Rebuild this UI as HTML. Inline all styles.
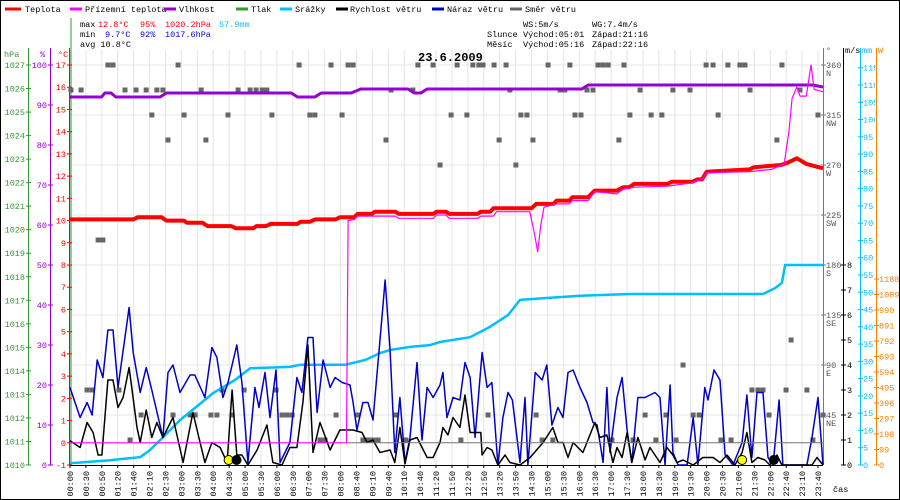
<!DOCTYPE html>
<html><head><meta charset="utf-8"><style>
html,body{margin:0;padding:0;background:#fff}
svg{display:block}
text{font-family:"Liberation Mono",monospace;font-size:8.5px}
</style></head><body>
<svg id="chart" width="900" height="500" viewBox="0 0 900 500" xmlns="http://www.w3.org/2000/svg">
<rect x="0.5" y="0.5" width="899" height="499" fill="#fff" stroke="#000"/>
<g id="grid"></g>
<g id="legend">
 <line x1="5" y1="9" x2="21" y2="9" stroke="#f00" stroke-width="3"/><text x="25" y="12">Teplota</text>
 <line x1="70" y1="9" x2="82" y2="9" stroke="#f0f" stroke-width="3"/><text x="85" y="12">Přízemní teplota</text>
 <line x1="164" y1="9" x2="176" y2="9" stroke="#9400d3" stroke-width="3"/><text x="179" y="12">Vlhkost</text>
 <line x1="236" y1="9" x2="248" y2="9" stroke="#339933" stroke-width="3"/><text x="251" y="12">Tlak</text>
 <line x1="280" y1="9" x2="292" y2="9" stroke="#00bfff" stroke-width="3"/><text x="295" y="12">Srážky</text>
 <line x1="336" y1="9" x2="348" y2="9" stroke="#000" stroke-width="3"/><text x="350" y="12">Rychlost větru</text>
 <line x1="432" y1="9" x2="444" y2="9" stroke="#0000cd" stroke-width="3"/><text x="447" y="12">Náraz větru</text>
 <line x1="510" y1="9" x2="522" y2="9" stroke="#666" stroke-width="3"/><text x="525" y="12">Směr větru</text>
</g>
<g id="stats">
 <text x="80" y="27">max</text><text x="98" y="27" fill="#f00">12.8°C</text><text x="140" y="27" fill="#f00">95%</text><text x="165" y="27" fill="#f00">1020.2hPa</text><text x="219" y="27" fill="#00bfff">57.9mm</text>
 <text x="80" y="37">min</text><text x="105" y="37" fill="#0000cd">9.7°C</text><text x="140" y="37" fill="#0000cd">92%</text><text x="165" y="37" fill="#0000cd">1017.6hPa</text>
 <text x="80" y="47">avg 10.8°C</text>
 <text x="523" y="27">WS:5m/s</text><text x="592" y="27">WG:7.4m/s</text>
 <text x="487" y="37">Slunce</text><text x="523" y="37">Východ:05:01</text><text x="592" y="37">Západ:21:16</text>
 <text x="487" y="47">Měsíc</text><text x="523" y="47">Východ:05:16</text><text x="592" y="47">Západ:22:16</text>
</g>
<text x="418" y="61" style="font-size:12px;font-weight:bold">23.6.2009</text>
<g id="axes"></g>
<g id="series"></g>
<text x="833" y="492">čas</text>
</svg>
<script>
const timeLabels=["00:00","00:30","00:50","01:20","01:40","02:10","02:30","03:00","03:30","04:00","04:30","05:00","05:30","06:00","06:30","07:00","07:30","08:00","08:40","09:10","09:40","10:10","10:40","11:20","11:50","12:20","12:50","13:20","13:50","14:30","15:00","15:30","16:00","16:30","17:00","17:30","18:00","18:30","19:00","19:30","20:00","20:30","21:00","21:30","22:00","22:40","23:10","23:40"];
const tempData=[[0,10.05],[2.0,10.05],[2.15,10.15],[2.9,10.15],[3.05,10.0],[3.6,10.0],[3.7,9.9],[4.2,9.9],[4.35,9.75],[5.1,9.75],[5.25,9.65],[5.8,9.65],[5.9,9.75],[6.2,9.75],[6.35,9.85],[7.2,9.85],[7.3,9.95],[7.6,9.95],[7.75,10.05],[8.4,10.05],[8.55,10.15],[9.0,10.15],[9.1,10.3],[9.55,10.3],[9.65,10.4],[10.3,10.4],[10.4,10.3],[11.5,10.3],[11.6,10.4],[11.9,10.4],[12.0,10.3],[12.9,10.3],[13.0,10.4],[13.3,10.4],[13.4,10.55],[14.6,10.55],[14.75,10.75],[15.3,10.75],[15.4,10.9],[15.8,10.9],[15.9,11.05],[16.4,11.05],[16.6,11.35],[17.3,11.35],[17.5,11.5],[17.7,11.5],[17.85,11.65],[18.9,11.65],[19.05,11.75],[19.7,11.75],[19.85,11.85],[20.0,11.85],[20.15,12.2],[21.5,12.3],[21.65,12.4],[22.5,12.5],[22.7,12.6],[23.0,12.8],[23.3,12.55],[23.83,12.35]];
const feelsData=[[0,0],[8.75,0],[8.8,10.0],[9.0,10.05],[9.1,10.2],[10.3,10.2],[10.4,10.1],[11.5,10.1],[11.6,10.25],[11.9,10.25],[12.0,10.1],[12.9,10.1],[13.0,10.2],[13.4,10.2],[13.5,10.4],[14.55,10.4],[14.7,9.4],[14.8,8.6],[14.9,9.8],[15.0,10.6],[15.4,10.75],[15.8,10.75],[15.9,10.9],[16.4,10.9],[16.6,11.3],[17.3,11.2],[17.5,11.4],[17.85,11.5],[18.9,11.55],[19.7,11.7],[19.85,11.8],[20.0,11.85],[20.15,12.15],[21.5,12.2],[22.2,12.3],[22.6,12.55],[22.75,14.0],[22.85,15.5],[23.0,16.0],[23.1,15.6],[23.3,15.6],[23.45,17.0],[23.55,15.9],[23.83,15.8]];
const humidityData=[[0,92],[1.0,92],[1.1,93],[1.3,93],[1.45,92],[2.85,92],[3.05,93],[7.0,93],[7.2,92],[7.75,92],[7.95,93],[8.9,93],[9.2,94],[10.7,94],[10.9,93],[11.1,93],[11.3,94],[16.2,94],[16.4,95],[23.5,95],[23.83,94.5]];
const rainData=[[0,0.5],[1.27,1.4],[2.22,2.3],[2.53,4.3],[2.94,8],[3.48,13],[4.53,20.8],[5.22,24.6],[5.7,28],[6.96,28.4],[7.28,29],[8.7,29],[9.34,30.4],[9.81,32.4],[10.13,33.3],[10.76,34.2],[11.39,34.7],[11.71,35.6],[12.66,37],[13.29,40],[13.86,43.4],[14.24,47.8],[15.03,48.3],[16.14,49],[17.72,49.5],[21.93,49.5],[22.31,51.2],[22.53,52.7],[22.63,57.9],[23.83,57.9]];
const speedData=[[0,0.97],[0.32,0.7],[0.54,1.7],[0.73,1.3],[0.89,0.4],[1.01,0.4],[1.2,3.4],[1.36,3.4],[1.52,2.3],[1.68,2.7],[1.87,3.9],[2.12,1.5],[2.22,0.9],[2.41,2.2],[2.59,1.1],[2.75,1.7],[2.94,1.1],[3.26,1.9],[3.58,0.1],[3.89,2.1],[4.27,0.1],[4.49,0.9],[4.75,0.7],[4.97,0.1],[5.13,3.0],[5.28,0.4],[5.44,0.4],[5.63,0],[5.92,0.6],[6.23,1.6],[6.42,0.1],[6.71,0],[6.96,0.7],[7.18,0.7],[7.37,2.5],[7.53,4.8],[7.69,0.5],[7.91,1.7],[8.23,0.6],[8.54,1.4],[8.86,1.4],[8.96,1.4],[9.24,1.3],[9.4,0.9],[9.59,1.0],[9.81,0.5],[10.13,0.6],[10.28,0.1],[10.44,1.5],[10.6,0.05],[10.76,1.0],[10.98,1.1],[11.3,0.3],[11.49,0.3],[11.71,0.9],[11.8,1.5],[11.96,1.2],[12.12,1.9],[12.34,1.5],[12.5,2.8],[12.66,1.3],[13.0,1.3],[13.04,0.4],[13.2,0.7],[13.35,0.6],[13.54,0],[13.77,0.4],[13.92,0.1],[14.24,0],[14.56,0.3],[14.97,0.9],[15.28,1.5],[15.44,0.9],[15.6,0.9],[15.76,0.3],[15.92,0.9],[16.23,0.5],[16.61,1.7],[16.77,1.1],[16.99,1.2],[17.18,0.1],[17.31,0.7],[17.47,0.3],[17.63,1.3],[17.78,0.1],[17.97,1.1],[18.2,0.2],[18.35,0.7],[18.67,0.1],[18.89,0.7],[19.08,0.4],[19.21,0.1],[19.4,0.2],[19.72,0],[20.03,0.3],[20.35,0.3],[20.57,0.1],[20.79,0.4],[21.04,0],[21.27,0.5],[21.42,1.3],[21.58,0.1],[21.77,0.3],[21.99,0.2],[22.15,0],[22.37,0.4],[22.53,0],[23.48,0],[23.64,0.3],[23.83,0]];
const gustData=[[0,3.1],[0.32,1.9],[0.54,2.5],[0.7,2.0],[0.86,4.2],[1.04,3.5],[1.2,5.4],[1.36,5.4],[1.52,3.1],[1.87,6.3],[2.0,4.5],[2.22,2.9],[2.41,3.9],[2.59,3.0],[2.94,1.1],[3.1,3.7],[3.26,4.0],[3.48,2.9],[3.8,3.6],[3.95,3.6],[4.27,2.7],[4.49,4.7],[4.65,4.3],[4.84,2.7],[5.0,3.3],[5.28,4.8],[5.44,3.3],[5.63,0.1],[5.85,3.1],[5.98,2.3],[6.17,3.7],[6.33,1.9],[6.52,3.8],[6.65,0.1],[6.96,0.9],[7.18,3.5],[7.34,2.9],[7.53,5.1],[7.69,5.1],[7.82,2.1],[8.01,4.2],[8.23,3.1],[8.39,3.5],[8.61,3.3],[8.86,3.2],[8.96,2.5],[9.08,1.4],[9.27,2.5],[9.43,2.5],[9.59,1.8],[9.9,6.3],[9.97,7.4],[10.13,4.6],[10.28,0.5],[10.44,2.7],[10.6,0.1],[10.76,1.1],[10.98,4.1],[11.14,1.0],[11.3,3.1],[11.49,2.7],[11.71,3.2],[11.8,3.7],[11.93,1.9],[12.12,2.7],[12.34,2.6],[12.5,4.1],[12.66,3.5],[12.82,1.1],[13.04,4.5],[13.2,3.1],[13.35,3.3],[13.54,0],[13.7,1.9],[13.86,2.9],[14.0,2.6],[14.24,0.1],[14.4,2.7],[14.49,0],[14.72,3.7],[14.94,3.4],[15.09,4.0],[15.25,1.6],[15.44,2.3],[15.6,1.9],[15.76,3.7],[15.92,3.8],[16.14,3.1],[16.36,2.5],[16.55,1.7],[16.68,1.6],[16.87,0.1],[16.99,3.1],[17.09,0.5],[17.31,2.7],[17.47,3.5],[17.63,1.4],[17.78,0.1],[17.97,2.7],[18.2,2.7],[18.51,2.9],[18.67,2.7],[18.83,0],[18.99,3.2],[19.08,0.5],[19.24,0],[19.53,0],[19.72,1.9],[19.87,0],[20.09,3.1],[20.19,2.6],[20.38,3.8],[20.57,3.4],[20.73,0.4],[20.98,0],[21.27,0.9],[21.42,2.8],[21.58,0.3],[21.74,2.9],[21.93,2.9],[22.09,0.3],[22.25,0],[22.44,2.6],[22.56,0],[23.32,0],[23.48,1.1],[23.67,2.7],[23.83,0]];
const directionData=[[1.2,360],[1.36,360],[3.42,360],[7.25,360],[8.26,360],[8.8,360],[8.96,360],[11.01,360],[11.49,360],[12.25,360],[12.75,360],[12.94,360],[13.07,360],[13.42,360],[13.8,360],[15.13,360],[15.82,360],[16.71,360],[16.87,360],[17.03,360],[17.53,360],[20.13,360],[20.35,360],[20.82,360],[21.2,360],[21.36,360],[22.53,360],
[0.03,337.5],[0.35,337.5],[1.74,337.5],[2.09,337.5],[2.41,337.5],[2.75,337.5],[2.94,337.5],[4.15,337.5],[5.32,337.5],[5.7,337.5],[5.89,337.5],[6.08,337.5],[6.23,337.5],[10.16,337.5],[10.85,337.5],[13.92,337.5],[15.51,337.5],[15.66,337.5],[16.36,337.5],[16.55,337.5],[18.04,337.5],[19.08,337.5],[19.62,337.5],[21.52,337.5],[23.1,337.5],
[2.59,315],[3.61,315],[5.0,315],[6.39,315],[7.59,315],[7.75,315],[8.61,315],[12.06,315],[12.56,315],[14.27,315],[14.46,315],[15.98,315],[16.17,315],[17.72,315],[18.39,315],[18.73,315],[20.51,315],[23.67,315],
[3.1,292.5],[4.3,292.5],[10.0,292.5],[13.58,292.5],[14.65,292.5],[17.37,292.5],[22.37,292.5],
[11.71,270],[14.11,270],[0.89,202.5],[1.04,202.5],[22.82,112.5],[19.4,90],
[21.58,67.5],[21.77,67.5],[21.93,67.5],[22.66,67.5],[23.32,67.5],[0.54,67.5],[0.7,67.5],[1.55,67.5],[4.81,67.5],[5.51,67.5],[6.52,67.5],
[13.23,45],[14.75,45],[18.2,45],[18.86,45],[19.72,45],[19.91,45],[22.12,45],[23.83,45],[2.25,45],[3.26,45],[3.8,45],[3.96,45],[4.46,45],[4.65,45],[5.13,45],[6.71,45],[6.87,45],[7.03,45],[8.42,45],[9.11,45],[10.32,45],
[12.37,22.5],[14.94,22.5],[15.28,22.5],[17.15,22.5],[17.82,22.5],[18.54,22.5],[19.18,22.5],[20.6,22.5],[20.92,22.5],[23.51,22.5],[1.9,22.5],[7.91,22.5],[8.07,22.5],[9.27,22.5],[9.43,22.5],[9.59,22.5],[9.75,22.5],[10.63,22.5]];
const sunEvents=[[5.02,"sun"],[5.27,"moon"],[21.27,"sun"],[22.27,"moon"]];
const hpaTicks=[1010,1011,1012,1013,1014,1015,1016,1017,1018,1019,1020,1021,1022,1023,1024,1025,1026,1027];
const pctTicks=[0,10,20,30,40,50,60,70,80,90,100];
const tempTicks=[-1,0,1,2,3,4,5,6,7,8,9,10,11,12,13,14,15,16,17];
const dirTicks=[[360,"N"],[315,"NW"],[270,"W"],[225,"SW"],[180,"S"],[135,"SE"],[90,"E"],[45,"NE"]];
const msTicks=[0,1,2,3,4,5,6,7,8];
const mmTicks=[0,5,10,15,20,25,30,35,40,45,50,55,60,65,70,75,80,85,90,95,100,105,110,115];
const wTicks=[0,99,198,297,396,495,594,693,792,891,990,1089,1188];

const NS="http://www.w3.org/2000/svg";
const X0=70,X1=823,YB=465,YT=65;
const xT=h=>X0+h*31.6;
const xIdx=i=>X0+i*(748/47);
const yTemp=t=>YB-(t+1)*(400/18);
const yHpa=p=>YB-(p-1010)*(400/17);
const yPct=p=>YB-p*4;
const yDir=d=>YB-d*(400/360);
const yMs=v=>YB-v*25;
const yMm=v=>YB-v*(190/55);
const yW=v=>YB-v*(186/1188);
function mk(tag,attrs,parent){const e=document.createElementNS(NS,tag);for(const k in attrs)e.setAttribute(k,attrs[k]);parent.appendChild(e);return e;}
function txt(x,y,s,fill,anchor,parent){const t=mk("text",{x:x,y:y,fill:fill||"#000","text-anchor":anchor||"start"},parent);t.textContent=s;return t;}
const grid=document.getElementById("grid"),axes=document.getElementById("axes"),series=document.getElementById("series");

timeLabels.forEach((l,i)=>{const g=mk("line",{x1:xIdx(i),y1:50,x2:xIdx(i),y2:YB,stroke:"#e4e4e4"},grid);

});
dirTicks.forEach(d=>{const g=mk("line",{x1:X0,y1:yDir(d[0]),x2:X1,y2:yDir(d[0]),stroke:"#e4e4e4"},grid);

});

mk("line",{x1:28.5,y1:48,x2:28.5,y2:YB,stroke:"#339933"},axes);
txt(4,57,"hPa","#339933","start",axes);
hpaTicks.forEach(p=>{mk("line",{x1:26,y1:yHpa(p),x2:31,y2:yHpa(p),stroke:"#339933"},axes);
const t=txt(25,yHpa(p)+3,String(p),"#339933","end",axes);

});
mk("line",{x1:50.5,y1:48,x2:50.5,y2:YB,stroke:"#9400d3"},axes);
txt(40,57,"%","#9400d3","start",axes);
pctTicks.forEach(p=>{mk("line",{x1:48,y1:yPct(p),x2:53,y2:yPct(p),stroke:"#9400d3"},axes);
const t=txt(47,yPct(p)+3,String(p),"#9400d3","end",axes);

});
mk("line",{x1:69.5,y1:48,x2:69.5,y2:YB,stroke:"#f00"},axes);
mk("line",{x1:71,y1:18,x2:71,y2:YB,stroke:"#339933"},axes);
txt(58,57,"°C","#f00","start",axes);
tempTicks.forEach(v=>{mk("line",{x1:67,y1:yTemp(v),x2:72,y2:yTemp(v),stroke:"#f00"},axes);
const t=txt(66,yTemp(v)+3,String(v),"#f00","end",axes);

});

mk("line",{x1:X0,y1:YB+0.5,x2:X1,y2:YB+0.5,stroke:"#000"},axes);
timeLabels.forEach((l,i)=>{const x=xIdx(i);mk("line",{x1:x,y1:YB,x2:x,y2:YB+3,stroke:"#000"},axes);
const t=mk("text",{x:0,y:0,"text-anchor":"end",transform:`translate(${x+3},471) rotate(-90)`},axes);t.textContent=l;

});

mk("line",{x1:823.5,y1:48,x2:823.5,y2:YB,stroke:"#777"},axes);
txt(826,53,"°","#555","start",axes);
dirTicks.forEach(d=>{const y=yDir(d[0]);mk("line",{x1:821,y1:y,x2:826,y2:y,stroke:"#777"},axes);
txt(826,y+3,String(d[0]),"#555","start",axes);
const t=txt(826,y+11,d[1],"#555","start",axes);

});
mk("line",{x1:843.5,y1:48,x2:843.5,y2:YB,stroke:"#000"},axes);
txt(845,53,"m/s","#000","start",axes);
msTicks.forEach(v=>{const y=yMs(v);mk("line",{x1:841,y1:y,x2:846,y2:y,stroke:"#000"},axes);
const t=txt(847,y+3,String(v),"#000","start",axes);

});
mk("line",{x1:860.5,y1:48,x2:860.5,y2:YB,stroke:"#00bfff"},axes);
txt(862,53,"mm","#00bfff","start",axes);
mmTicks.forEach(v=>{const y=yMm(v);mk("line",{x1:858,y1:y,x2:863,y2:y,stroke:"#00bfff"},axes);
const t=txt(863,y+3,String(v),"#00bfff","start",axes);

});
mk("rect",{x:875,y:60,width:24,height:410,fill:"#fff"},axes);
mk("line",{x1:876.5,y1:48,x2:876.5,y2:YB,stroke:"#ff8000"},axes);
txt(878,53,"W","#ff8000","start",axes);
wTicks.forEach(v=>{const y=yW(v);mk("line",{x1:874,y1:y,x2:879,y2:y,stroke:"#ff8000"},axes);
const t=txt(879,y+3,String(v),"#ff8000","start",axes);

});

function line(data,yf,color,w,name){const p=mk("polyline",{points:data.map(d=>xT(d[0]).toFixed(1)+","+yf(d[1]).toFixed(1)).join(" "),fill:"none",stroke:color,"stroke-width":w,"stroke-linejoin":"round"},series);

}
directionData.forEach(d=>{const r=mk("rect",{x:xT(d[0])-2.5,y:yDir(d[1])-2.5,width:5,height:5,fill:"#666"},series);

});
line(rainData,yMm,"#00bfff",2.5,"rain-line");
line(gustData,yMs,"#0000cd",1.5,"wind-gust-line");
line(speedData,yMs,"#000",1.5,"wind-speed-line");
const zl=mk("line",{x1:xT(8.75),y1:yTemp(0),x2:X1,y2:yTemp(0),stroke:"#777"},series);


line(humidityData,yPct,"#9400d3",3,"humidity-line");
line(tempData,yTemp,"#f00",4,"temperature-line");
line(feelsData,yTemp,"#f0f",1.2,"ground-temperature-line");
sunEvents.forEach(e=>{const c=mk("circle",{cx:xT(e[0]),cy:460,r:4.5,fill:e[1]==="sun"?"#ff0":"#000",stroke:"#000"},series);

});
</script>
</body></html>
